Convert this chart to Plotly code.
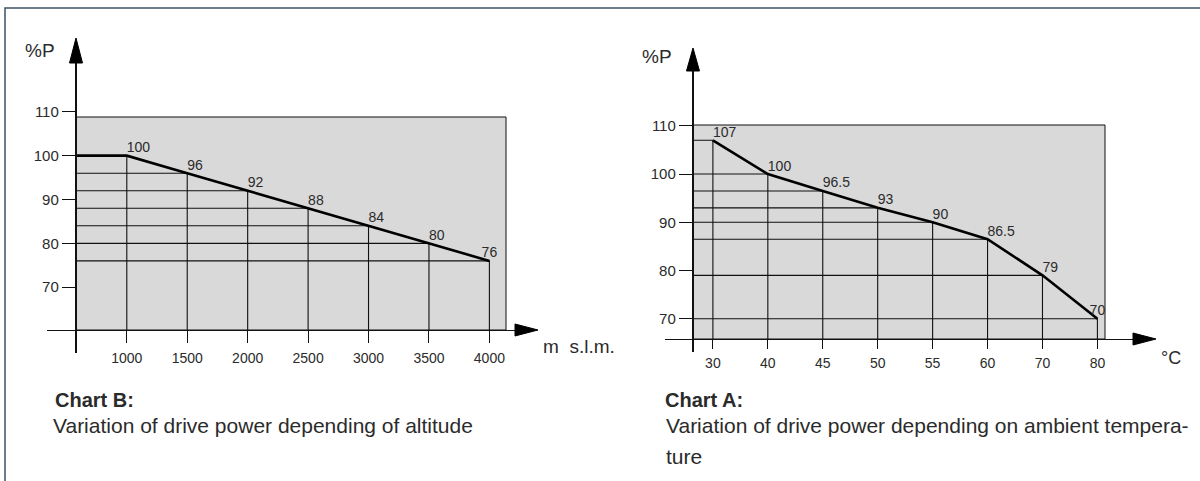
import plotly.graph_objects as go

# ---------------- data ----------------
# Chart B: drive power vs altitude
ALTITUDE = [1000, 1500, 2000, 2500, 3000, 3500, 4000]
POWER_ALT = [100, 96, 92, 88, 84, 80, 76]
ALT_TICK_TEXT = ["1000", "1500", "2000", "2500", "3000", "3500", "4000"]

# Chart A: drive power vs ambient temperature
TEMP_LABELS = ["30", "40", "45", "50", "55", "60", "70", "80"]
POWER_TEMP = [107, 100, 96.5, 93, 90, 86.5, 79, 70]
TEMP_POINT_LABELS = ["107", "100", "96.5", "93", "90", "86.5", "79", "70"]

Y_TICKS = [70, 80, 90, 100, 110]

# ---------------- layout geometry (pixels) ----------------
W, H = 1200, 481
NUM_FONT = "Liberation Sans, Arial, Helvetica, sans-serif"
TXT_FONT = "Liberation Sans, Arial, Helvetica, sans-serif"
INK = "#111111"
TXT = "#2b2b2b"
BOX_FILL = "#d9d9d9"


def px_x(x):
    return x / W


def px_y(y):
    return 1 - y / H


def inv(v1, p1, v2, p2):
    """return function pixel -> value from two calibration pairs"""
    k = (v2 - v1) / (p2 - p1)
    return lambda p: v1 + (p - p1) * k


# Chart B calibration
bx = inv(1000, 126.8, 4000, 489.4)
by = inv(90, 199.5, 100, 199.5 - 43.85)
B_YAXIS_PX, B_XAXIS_PX = 76, 330
B_XDOM = (47, 515)
B_YDOM = (353, 62)

# Chart A calibration (category index on x)
ax = inv(0, 712.9, 7, 712.9 + 7 * 54.93)
ay = inv(90, 222.3, 100, 222.3 - 48.23)
A_YAXIS_PX, A_XAXIS_PX = 693, 339
A_XDOM = (665, 1133)
A_YDOM = (352, 70)

fig = go.Figure()

# ---------- Chart B traces ----------
bx0 = bx(B_YAXIS_PX)
by0 = by(B_XAXIS_PX)
gx, gy = [], []
for xv, yv in zip(ALTITUDE, POWER_ALT):
    gx += [bx0, xv, xv, None]
    gy += [yv, yv, by0, None]
fig.add_trace(go.Scatter(x=gx, y=gy, mode="lines", line=dict(color=INK, width=1.1),
                         hoverinfo="skip", showlegend=False, xaxis="x", yaxis="y"))
fig.add_trace(go.Scatter(x=[bx0] + ALTITUDE, y=[POWER_ALT[0]] + POWER_ALT, mode="lines",
                         line=dict(color="#000000", width=2.6),
                         showlegend=False, xaxis="x", yaxis="y"))
fig.add_trace(go.Scatter(x=ALTITUDE, y=POWER_ALT, mode="text",
                         text=[str(v) for v in POWER_ALT],
                         textposition=["top right"] * 6 + ["top center"],
                         textfont=dict(family=NUM_FONT, size=14, color=TXT),
                         showlegend=False, xaxis="x", yaxis="y", hoverinfo="skip"))

# ---------- Chart A traces ----------
idx = list(range(len(TEMP_LABELS)))
ax0 = ax(A_YAXIS_PX)
ay0 = ay(A_XAXIS_PX)
gx, gy = [], []
for xv, yv in zip(idx, POWER_TEMP):
    gx += [ax0, xv, xv, None]
    gy += [yv, yv, ay0, None]
fig.add_trace(go.Scatter(x=gx, y=gy, mode="lines", line=dict(color=INK, width=1.1),
                         hoverinfo="skip", showlegend=False, xaxis="x2", yaxis="y2"))
fig.add_trace(go.Scatter(x=idx, y=POWER_TEMP, mode="lines",
                         line=dict(color="#000000", width=2.6),
                         showlegend=False, xaxis="x2", yaxis="y2"))
fig.add_trace(go.Scatter(x=idx, y=POWER_TEMP, mode="text",
                         text=TEMP_POINT_LABELS,
                         textposition=["top right"] * 7 + ["top center"],
                         textfont=dict(family=NUM_FONT, size=14, color=TXT),
                         showlegend=False, xaxis="x2", yaxis="y2", hoverinfo="skip"))


def xaxis_cfg(dom, f, pos_px, tickvals, ticktext, ticklen, standoff):
    return dict(domain=[px_x(dom[0]), px_x(dom[1])], range=[f(dom[0]), f(dom[1])],
                anchor="free", position=px_y(pos_px), showline=True, linecolor=INK,
                linewidth=1.3, ticks="outside", ticklen=ticklen, tickwidth=1.1,
                tickcolor=INK, tickvals=tickvals, ticktext=ticktext, showgrid=False,
                zeroline=False, tickfont=dict(family=NUM_FONT, size=14, color=TXT),
                ticklabelstandoff=standoff, fixedrange=True)


def yaxis_cfg(dom, f, pos_px):
    return dict(domain=[px_y(dom[0]), px_y(dom[1])], range=[f(dom[0]), f(dom[1])],
                anchor="free", position=px_x(pos_px), showline=True, linecolor=INK,
                linewidth=2.4, ticks="outside", ticklen=13, tickwidth=1.1, tickcolor=INK,
                tickvals=Y_TICKS, ticktext=[str(v) for v in Y_TICKS], showgrid=False,
                zeroline=False, tickfont=dict(family=NUM_FONT, size=15, color=TXT),
                fixedrange=True)


shapes = []
# outer frame
shapes.append(dict(type="rect", xref="paper", yref="paper", x0=px_x(5), x1=px_x(W + 10),
                   y0=px_y(H + 10), y1=px_y(8), line=dict(color="#3d5166", width=1.5),
                   fillcolor="rgba(0,0,0,0)", layer="below"))
# grey boxes
for (x0, y0, x1, y1) in [(76, 117, 506, 330), (693, 125, 1105, 339)]:
    shapes.append(dict(type="rect", xref="paper", yref="paper", x0=px_x(x0), x1=px_x(x1),
                       y0=px_y(y1), y1=px_y(y0), fillcolor=BOX_FILL,
                       line=dict(color=INK, width=1), layer="below"))


def tri(p1, p2, p3):
    pts = [p1, p2, p3]
    path = "M " + " L ".join(f"{px_x(a):.5f},{px_y(b):.5f}" for a, b in pts) + " Z"
    return dict(type="path", xref="paper", yref="paper", path=path,
                fillcolor="#000000", line=dict(color="#000000", width=1))


shapes += [
    tri((76, 38), (69.5, 63), (82.5, 63)),
    tri((538, 330), (515, 324), (515, 336)),
    tri((693, 48), (686.5, 71), (699.5, 71)),
    tri((1156, 339), (1133, 333), (1133, 345)),
]

annotations = []


def ann(text, x, y, size=21, bold=False, xanchor="left", yanchor="middle", align="left"):
    annotations.append(dict(text=f"<b>{text}</b>" if bold else text, x=px_x(x), y=px_y(y),
                            xref="paper", yref="paper", showarrow=False, xanchor=xanchor,
                            yanchor=yanchor, align=align,
                            font=dict(family=TXT_FONT, size=size, color=TXT)))


ann("%P", 40, 50, size=19, xanchor="center")
ann("%P", 657, 57, size=19, xanchor="center")
ann("m  s.l.m.", 541, 346, size=19)
ann("°C", 1159, 358, size=18)
ann("Chart B:", 53, 400, size=20, bold=True)
ann("Variation of drive power depending of altitude", 51, 425)
ann("Chart A:", 663, 400, size=20, bold=True)
ann("Variation of drive power depending on ambient tempera-", 664, 425)
ann("ture", 664, 456)

fig.update_layout(
    width=W, height=H,
    margin=dict(l=0, r=0, t=0, b=0),
    paper_bgcolor="#ffffff", plot_bgcolor="rgba(0,0,0,0)",
    xaxis=xaxis_cfg(B_XDOM, bx, B_XAXIS_PX, ALTITUDE, ALT_TICK_TEXT, 12, 3),
    yaxis=yaxis_cfg(B_YDOM, by, B_YAXIS_PX),
    xaxis2=xaxis_cfg(A_XDOM, ax, A_XAXIS_PX, idx, TEMP_LABELS, 9, 2),
    yaxis2=yaxis_cfg(A_YDOM, ay, A_YAXIS_PX),
    shapes=shapes, annotations=annotations, showlegend=False,
)

fig.write_html("out.html", config={"displayModeBar": False},
               post_script="document.body.style.margin='0';document.body.style.overflow='hidden';")
